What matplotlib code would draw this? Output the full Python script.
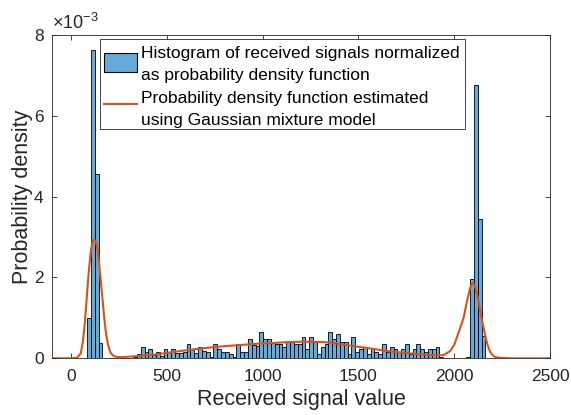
import matplotlib
matplotlib.use("Agg")
import matplotlib.pyplot as plt
import matplotlib.patches as mpatches
from matplotlib.lines import Line2D
from matplotlib.transforms import Affine2D
import numpy as np

plt.rcParams['font.family'] = ['Liberation Sans', 'DejaVu Sans']
plt.rcParams['mathtext.fontset'] = 'custom'
plt.rcParams['mathtext.rm'] = 'Liberation Sans'
plt.rcParams['mathtext.it'] = 'Liberation Sans:italic'

# 1. data ------------------------------------------------------------------
# histogram bins (width 20, first edge at 83), density in units of 1e-3
bin_start = 83
bin_width = 20
hist_density = [
    0.99, 7.64, 4.57, 0.37,
    0, 0, 0, 0, 0, 0, 0, 0,
    0.03, 0.10, 0.29, 0.16, 0.22, 0.09, 0.16, 0.06, 0.22, 0.16,
    0.22, 0.13, 0.13, 0.16, 0.35, 0.23, 0.13, 0.28, 0.18, 0.16,
    0.04, 0.35, 0.22, 0.16, 0.16, 0.10, 0.04, 0.35, 0.16, 0.16,
    0.47, 0.33, 0.30, 0.66, 0.47, 0.47, 0.40, 0.35, 0.35, 0.29,
    0.40, 0.40, 0.35, 0.35, 0.53, 0.22, 0.53, 0.40, 0.10, 0.29,
    0.35, 0.66, 0.47, 0.60, 0.40, 0.41, 0.10, 0.53, 0.16, 0.22,
    0.27, 0.10, 0.22, 0.16, 0.10, 0.35, 0.16, 0.29, 0.22, 0.16,
    0.22, 0.35, 0.10, 0.22, 0.35, 0.22, 0.16, 0.22, 0.22, 0.29,
    0.04,
    0, 0, 0, 0, 0, 0,
    0.04, 1.95, 6.77, 3.44, 0.54,
]

# gaussian mixture pdf (signal value, density x1e-3)
curve_x = [-100, 0, 30, 50, 61, 70, 78, 87, 95, 104, 113, 121, 130, 139, 147,
           156, 165, 174, 182, 191, 200, 208, 225, 243, 270, 300, 365, 450,
           538, 620, 712, 800, 885, 970, 1059, 1130, 1198, 1260, 1319, 1365,
           1406, 1450, 1493, 1540, 1580, 1620, 1667, 1710, 1753, 1800, 1840,
           1880, 1910, 1944, 1979, 2000, 2014, 2031, 2049, 2066, 2075, 2083,
           2090, 2097, 2105, 2118, 2127, 2135, 2144, 2153, 2162, 2170, 2180,
           2188, 2200, 2214, 2240, 2300, 2500]
curve_y = [0, 0, 0.01, 0.12, 0.40, 0.80, 1.28, 1.85, 2.30, 2.70, 2.90, 2.94,
           2.88, 2.66, 2.30, 1.86, 1.40, 0.95, 0.62, 0.37, 0.21, 0.12, 0.05,
           0.03, 0.03, 0.04, 0.06, 0.10, 0.16, 0.21, 0.26, 0.30, 0.33, 0.36,
           0.38, 0.40, 0.41, 0.41, 0.40, 0.38, 0.35, 0.32, 0.29, 0.26, 0.23,
           0.20, 0.17, 0.15, 0.13, 0.11, 0.09, 0.08, 0.07, 0.08, 0.18, 0.33,
           0.52, 0.75, 1.00, 1.40, 1.58, 1.74, 1.82, 1.86, 1.82, 1.62, 1.40,
           1.18, 0.96, 0.76, 0.56, 0.40, 0.25, 0.16, 0.08, 0.03, 0.01, 0, 0]

x_ticks = [0, 500, 1000, 1500, 2000, 2500]
y_ticks = [0, 2, 4, 6, 8]

hist_label = ["Histogram of received signals normalized",
              "as probability density function"]
curve_label = ["Probability density function estimated",
               "using Gaussian mixture model"]

axis_col = '#262626'
bar_col = '#66aad7'
line_col = '#d95319'

# 2. plot ------------------------------------------------------------------
W, H = 571, 415
fig = plt.figure(figsize=(W / 100, H / 100), dpi=100)
# pixel coords (origin top-left) -> figure, used for the legend layout
px = Affine2D().scale(1 / W, -1 / H).translate(0, 1) + fig.transFigure

ax = fig.add_axes([52 / W, 1 - 358.3 / H, 498 / W, 323.3 / H])

edges = bin_start + bin_width * np.arange(len(hist_density))
ax.bar(edges, hist_density, width=bin_width, align='edge', color=bar_col,
       edgecolor='black', linewidth=0.6, zorder=2)
ax.plot(curve_x, curve_y, color=line_col, linewidth=1.5, zorder=3)

ax.set_xlim(-100, 2500)
ax.set_ylim(0, 8)
ax.set_xticks(x_ticks)
ax.set_yticks(y_ticks)
ax.tick_params(direction='in', top=True, right=True, length=3.5, width=0.6,
               colors=axis_col, labelsize=12.5)
ax.tick_params(axis='x', pad=8)
ax.tick_params(axis='y', pad=6)
for s in ax.spines.values():
    s.set_color(axis_col)
    s.set_linewidth(0.6)

ax.set_xlabel("Received signal value", fontsize=15.5, color=axis_col, labelpad=3)
ax.set_ylabel("Probability density", fontsize=15.5, color=axis_col, labelpad=1)
ax.text(0, 1.005, r"$\times10^{-3}$", transform=ax.transAxes, ha='left',
        va='bottom', fontsize=13, color=axis_col)

# legend, laid out by hand so the keys sit between the two label lines
fig.add_artist(mpatches.Rectangle((99.5, 39), 365, 90, transform=px,
                                  facecolor='white', edgecolor=axis_col,
                                  linewidth=0.6, zorder=4))
fig.add_artist(mpatches.Rectangle((104, 52.7), 32.7, 19, transform=px,
                                  facecolor=bar_col, edgecolor='black',
                                  linewidth=0.8, zorder=5))
fig.add_artist(Line2D([104, 136.7], [104, 104], transform=px,
                      color=line_col, linewidth=1.5, zorder=5))
for txt, base in zip(hist_label + curve_label, [58.3, 80.3, 102.5, 124.5]):
    fig.text(140.7, base, txt, transform=px, fontsize=12.5, color='black',
             ha='left', va='baseline', zorder=5)

fig.savefig("out.png", dpi=100)
